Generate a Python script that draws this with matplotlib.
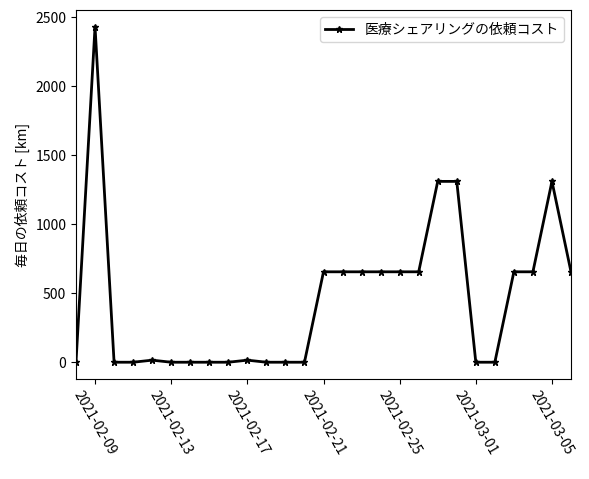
import numpy as np
import pandas as pd
import matplotlib
matplotlib.use('Agg')
import matplotlib.pyplot as plt
import matplotlib.dates as mdates

plt.rcParams['font.family'] = ['Noto Sans CJK JP', 'DejaVu Sans']

dates = pd.date_range('2021-02-08', '2021-03-06', freq='D')
cost = [0, 2430, 0, 0, 15, 0, 0, 0, 0, 15, 0, 0, 0,
        655, 655, 655, 655, 655, 655, 1310, 1310, 0, 0, 655, 655, 1310, 655]
series_label = '医療シェアリングの依頼コスト'
y_label = '毎日の依頼コスト [km]'

fig = plt.figure(figsize=(5.89, 4.79), dpi=100)
ax = fig.add_axes([76 / 589, 1 - 379 / 479, (571 - 76) / 589, (379 - 10) / 479])

ax.plot(dates, cost, color='black', linewidth=2, marker='*', markersize=5, label=series_label)
ax.set_xlim(dates[0], dates[-1])
ax.set_xticks(dates[1::4])
ax.xaxis.set_major_formatter(mdates.DateFormatter('%Y-%m-%d'))
plt.setp(ax.get_xticklabels(), rotation=-60)
ax.set_ylabel(y_label)
ax.legend(loc='upper right')

fig.savefig('out.png', dpi=100)
